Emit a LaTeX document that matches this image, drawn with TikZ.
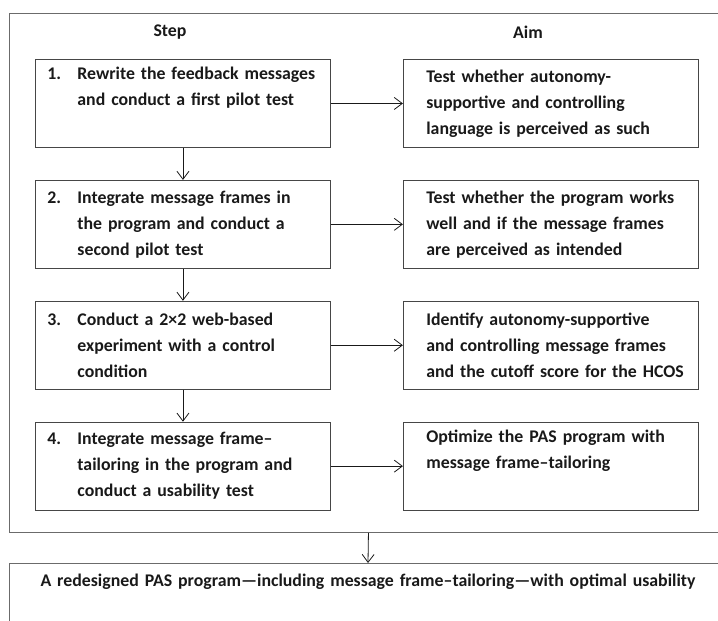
\documentclass[tikz,border=0pt]{standalone}
\usepackage{fontspec}
\setmainfont{Carlito}
\usetikzlibrary{positioning,arrows.meta}
\definecolor{linegray}{RGB}{70,70,70}
\definecolor{textblack}{RGB}{25,25,25}
\newcommand{\stepno}[1]{\makebox[30pt][l]{#1}}
\newcommand{\ind}{\hspace*{30pt}}
\tikzset{
    stepbox/.style = {draw=linegray, line width=0.9pt, rectangle,
        minimum width=295pt, minimum height=88pt,
        text width=271pt, inner xsep=12pt, align=left},
    aimbox/.style = {stepbox, text width=249pt, inner xsep=23pt},
    head/.style = {inner sep=0pt},
    frame/.style = {draw=linegray!80, line width=0.9pt, rectangle, inner sep=0pt},
    arrow/.style = {draw=textblack, line width=0.8pt, ->}
}

\begin{document}
\begin{tikzpicture}[x=1pt, y=-1pt, node distance=32pt,
    >={Straight Barb[length=8pt,width=12pt]},
    every node/.style={font=\fontsize{17.8}{26}\selectfont\bfseries, text=textblack}]
    \useasboundingbox (0,0) rectangle (718,621);
    \clip (0,0) rectangle (718,621);
    % outer frame and final result
    \node [frame, anchor=north west, minimum width=718pt, minimum height=519pt] (outer) at (9,13) {};
    \node [frame, anchor=north, minimum width=718pt, text width=700pt, align=center,
        text height=14pt, text depth=70pt, inner ysep=9pt] (final) at (368,563)
        {A redesigned PAS program—including message frame–tailoring—with optimal usability};
    \draw [arrow] (outer.south) -- (final.north);
    % headings
    \node [head] (hstep) at (170,32) {Step};
    \node [head] (haim) at (528,32) {Aim};
    % steps
    \node [stepbox, anchor=north west] (s1) at (35,59)
        {\stepno{1.}Rewrite the feedback messages\\\ind and conduct a first pilot test\\\strut};
    \node [stepbox, below=of s1] (s2)
        {\stepno{2.}Integrate message frames in\\\ind the program and conduct a\\\ind second pilot test};
    \node [stepbox, below=of s2] (s3)
        {\stepno{3.}Conduct a 2×2 web-based\\\ind experiment with a control\\\ind condition};
    \node [stepbox, below=of s3] (s4)
        {\stepno{4.}Integrate message frame–\\\ind tailoring in the program and\\\ind conduct a usability test};
    % aims
    \node [aimbox, right=72pt of s1] (a1)
        {Test whether autonomy-\\supportive and controlling\\language is perceived as such};
    \node [aimbox, right=72pt of s2] (a2)
        {Test whether the program works\\well and if the message frames\\are perceived as intended};
    \node [aimbox, right=72pt of s3] (a3)
        {Identify autonomy-supportive\\and controlling message frames\\\mbox{and the cutoff score for the HCOS}};
    \node [aimbox, right=72pt of s4] (a4)
        {Optimize the PAS program with\\message frame–tailoring\\\strut};
    % connectors
    \draw [arrow] (s1) -- (s2);
    \draw [arrow] (s2) -- (s3);
    \draw [arrow] (s3) -- (s4);
    \draw [arrow] (s1) -- (a1);
    \draw [arrow] (s2) -- (a2);
    \draw [arrow] (s3) -- (a3);
    \draw [arrow] (s4) -- (a4);
\end{tikzpicture}
\end{document}
